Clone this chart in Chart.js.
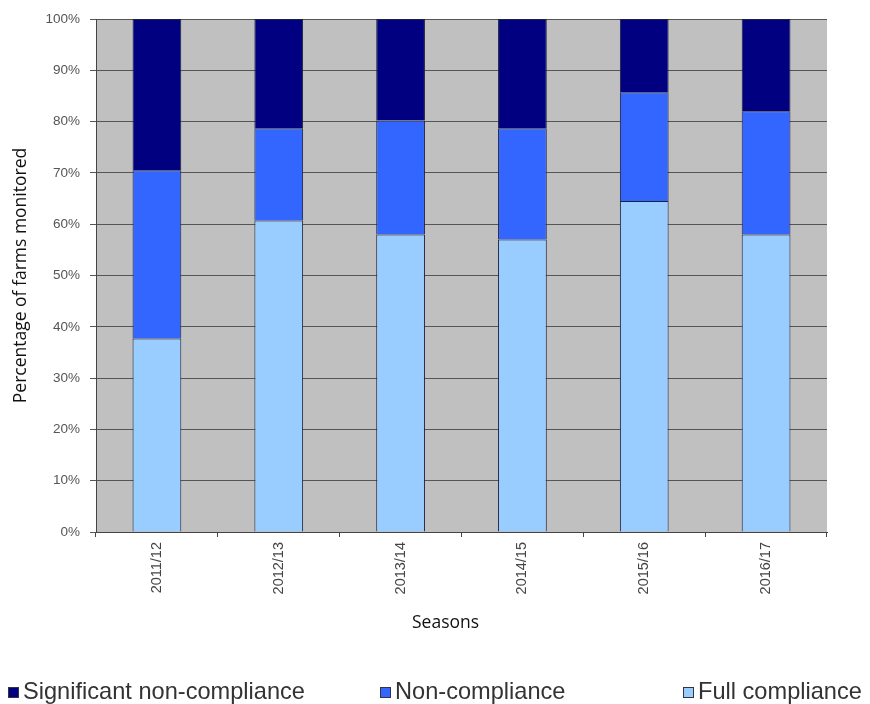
<!DOCTYPE html>
<html>
<head>
<meta charset="utf-8">
<script src="https://cdn.jsdelivr.net/npm/chart.js@4/dist/chart.umd.min.js"></script>
<style>
  body { margin: 0; background: #fff; }
  #wrap { position: relative; width: 870px; height: 704px; }
  .leg { position: absolute; top: 678px; font-family: 'Liberation Sans', Arial, sans-serif; font-size: 23.6px; color: #333; white-space: nowrap; }
  .leg i { display: inline-block; width: 9px; height: 9px; border: 1px solid #334; margin-right: 4px; vertical-align: 1px; }
  #xtitle { position: absolute; left: 412px; top: 609px; font-family: 'Open Sans', sans-serif; font-size: 17.5px; color: #111; }
</style>
</head>
<body>
<div id="wrap">
  <canvas id="grafico_bar" width="870" height="704"></canvas>
  <div id="xtitle">Seasons</div>
  <div class="leg" style="left:8px"><i style="background:#000080"></i>Significant non-compliance</div>
  <div class="leg" style="left:380px"><i style="background:#3366ff"></i>Non-compliance</div>
  <div class="leg" style="left:683px"><i style="background:#99ccff"></i>Full compliance</div>
</div>
<script>
const seasons = ['2011/12', '2012/13', '2013/14', '2014/15', '2015/16', '2016/17']
const full_compliance = [37.7, 60.7, 58.0, 57.0, 64.5, 58.0]
const non_compliance = [32.8, 18.0, 22.2, 21.7, 21.2, 24.0]
const significant = [29.5, 21.3, 19.8, 21.3, 14.3, 18.0]

// fundo cinza da área do gráfico
const plotBg = {
    id: 'plotBg',
    beforeDraw(chart) {
        const { ctx, chartArea } = chart
        ctx.save()
        ctx.fillStyle = '#c0c0c0'
        ctx.fillRect(chartArea.left, chartArea.top, chartArea.right - chartArea.left, chartArea.bottom - chartArea.top)
        ctx.restore()
    }
}

const ctx = document.getElementById('grafico_bar')

const data = {
    labels: seasons,
    datasets: [
        { label: 'Full compliance', data: full_compliance, backgroundColor: '#99ccff' },
        { label: 'Non-compliance', data: non_compliance, backgroundColor: '#3366ff' },
        { label: 'Significant non-compliance', data: significant, backgroundColor: '#000080' }
    ]
}
data.datasets.forEach(d => {
    d.borderColor = '#1c2140'
    d.borderWidth = 1
    d.barPercentage = 0.4
    d.categoryPercentage = 1
})

new Chart(ctx, {
    type: 'bar',
    data,
    options: {
        responsive: false,
        animation: false,
        layout: { padding: { left: 0, right: 43, top: 19, bottom: 68 } },
        plugins: { legend: { display: false }, tooltip: { enabled: false } },
        scales: {
            x: {
                stacked: true,
                afterFit: s => { s.height = 104 },
                grid: { drawOnChartArea: false, offset: true, tickLength: 5, color: '#444' },
                border: { color: '#444' },
                ticks: { minRotation: 90, maxRotation: 90, padding: 5, color: '#444', font: { family: 'Liberation Sans', size: 14.5 } }
            },
            y: {
                stacked: true,
                min: 0,
                max: 100,
                afterFit: s => { s.width = 96 },
                grid: { color: '#555', tickLength: 6 },
                border: { color: '#444' },
                ticks: { stepSize: 10, padding: 10, color: '#555', font: { family: 'Liberation Sans', size: 13.5 }, callback: v => v + '%' },
                title: { display: true, text: 'Percentage of farms monitored', color: '#111', font: { family: 'Open Sans', size: 17.5 }, padding: { top: 11, bottom: 4 } }
            }
        }
    },
    plugins: [plotBg]
})
</script>
</body>
</html>
